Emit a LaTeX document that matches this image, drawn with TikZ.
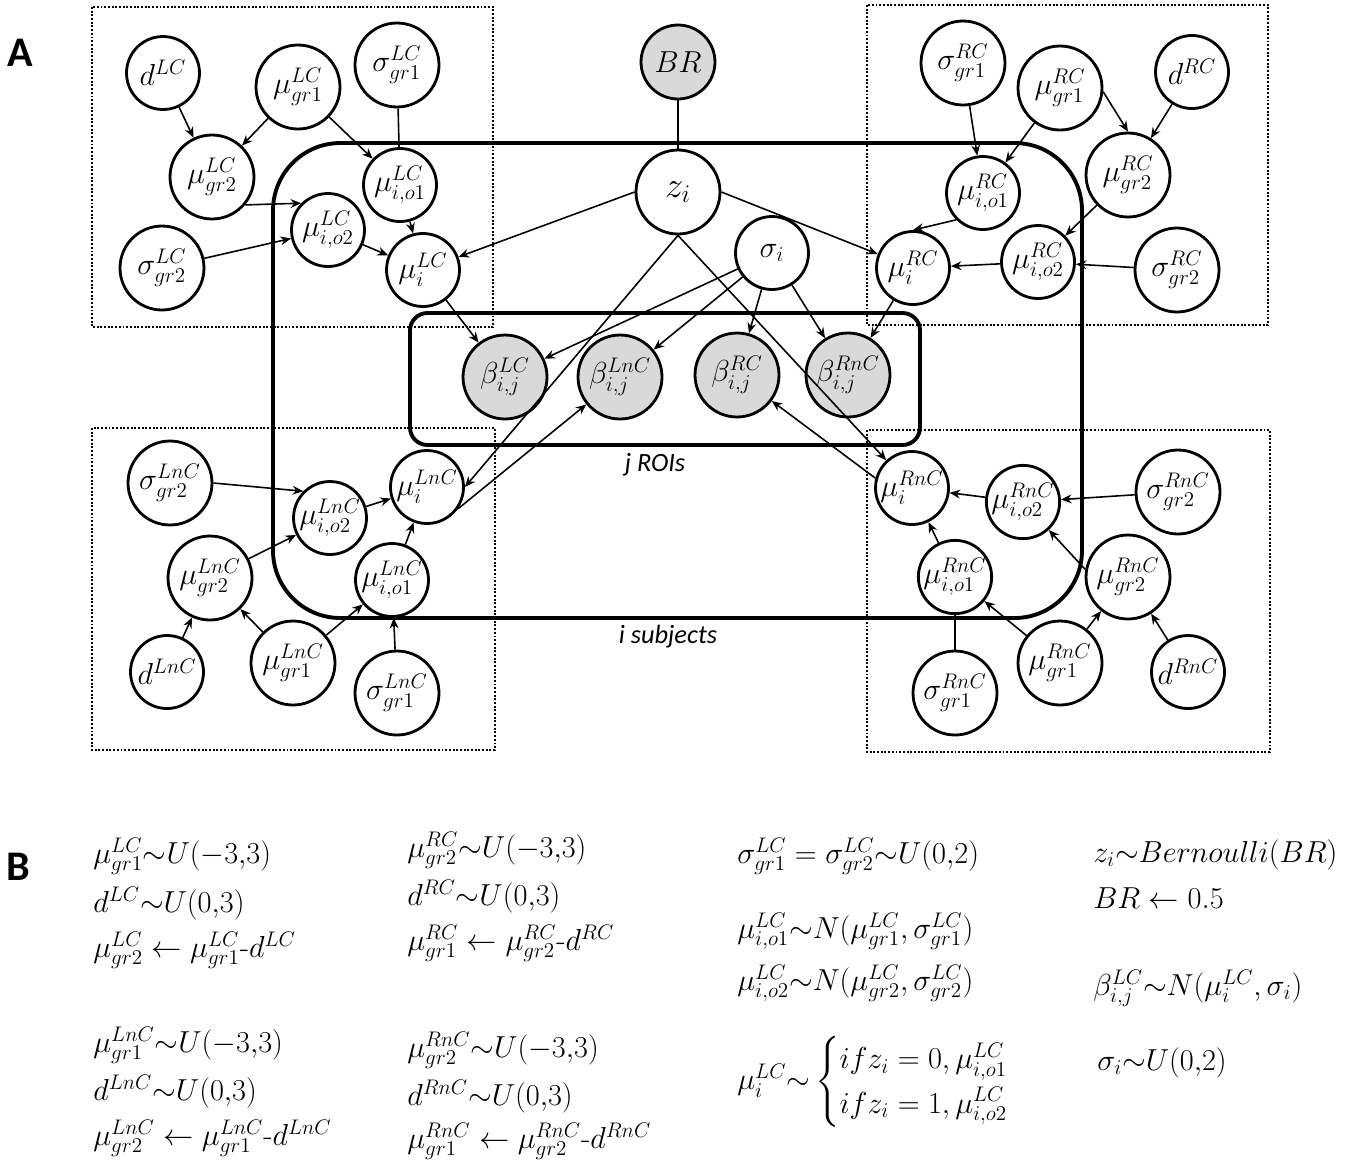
\documentclass[tikz,border=0pt]{standalone}
\usepackage{amsmath}
\usepackage{fontspec}
\newfontfamily\labfont{Carlito}
\DeclareMathSizes{16}{16}{12.5}{10}
\usetikzlibrary{arrows.meta}

\begin{document}
\begin{tikzpicture}[x=0.02cm,y=-0.02cm,
  rv/.style={circle,draw,line width=1.6pt,fill=white,inner sep=0pt,minimum size=1.68cm,font=\fontsize{16}{19}\selectfont},
  rvs/.style={rv,minimum size=1.46cm},
  obs/.style={rv,fill=black!15},
  arr/.style={line width=0.9pt,-{Stealth[length=6pt,width=5pt]}},
  ln/.style={line width=0.9pt},
  grp/.style={line width=1.1pt,densely dotted},
  plate/.style={line width=2.2pt,rounded corners=#1},
  eq/.style={anchor=base west,inner sep=0pt,font=\fontsize{17.5}{21}\selectfont}]

\useasboundingbox (0,0) rectangle (1345,1164);

\draw[grp] (92,7) rectangle (493,327);
\draw[grp] (867,5) rectangle (1268,325);
\draw[grp] (92,428) rectangle (495,750);
\draw[grp] (867,430) rectangle (1270,752);

\draw[plate=1.35cm] (273,143) rectangle (1082,618);
\draw[plate=0.35cm] (410,313) rectangle (920,445);

\node[font=\labfont\bfseries\fontsize{24}{28}\selectfont] (lblA) at (20,53) {A};
\node[font=\labfont\bfseries\fontsize{24}{28}\selectfont] (lblB) at (18,867) {B};
\node[font=\labfont\itshape\fontsize{15}{18}\selectfont] (roi) at (655,465) {j ROIs};
\node[font=\labfont\itshape\fontsize{15}{18}\selectfont] (subj) at (668,637) {i subjects};

\node[rvs] (dLC) at (163,73) {$d^{LC}$};
\node[rv] (mLCg1) at (298,87) {$\mu^{LC}_{gr1}$};
\node[rv] (sLCg1) at (397,65) {$\sigma^{LC}_{gr1}$};
\node[rv] (mLCg2) at (212,177) {$\mu^{LC}_{gr2}$};
\node[rvs] (mLCo1) at (400,185) {$\mu^{LC}_{i,o1}$};
\node[rvs] (mLCo2) at (328,230) {$\mu^{LC}_{i,o2}$};
\node[rv] (sLCg2) at (162,268) {$\sigma^{LC}_{gr2}$};
\node[rvs] (mLCi) at (423,270) {$\mu^{LC}_{i}$};

\node[rv] (sRCg1) at (963,63) {$\sigma^{RC}_{gr1}$};
\node[rv] (mRCg1) at (1060,88) {$\mu^{RC}_{gr1}$};
\node[rvs] (dRC) at (1192,72) {$d^{RC}$};
\node[rv] (mRCg2) at (1128,175) {$\mu^{RC}_{gr2}$};
\node[rvs] (mRCo1) at (983,193) {$\mu^{RC}_{i,o1}$};
\node[rvs] (mRCo2) at (1038,262) {$\mu^{RC}_{i,o2}$};
\node[rvs] (mRCi) at (913,268) {$\mu^{RC}_{i}$};
\node[rv] (sRCg2) at (1177,270) {$\sigma^{RC}_{gr2}$};

\node[rv] (sLnCg2) at (170,483) {$\sigma^{LnC}_{gr2}$};
\node[rvs] (mLnCo2) at (330,518) {$\mu^{LnC}_{i,o2}$};
\node[rvs] (mLnCi) at (427,487) {$\mu^{LnC}_{i}$};
\node[rv] (mLnCg2) at (210,578) {$\mu^{LnC}_{gr2}$};
\node[rvs] (mLnCo1) at (392,580) {$\mu^{LnC}_{i,o1}$};
\node[rvs] (dLnC) at (167,672) {$d^{LnC}$};
\node[rv] (mLnCg1) at (293,663) {$\mu^{LnC}_{gr1}$};
\node[rv] (sLnCg1) at (397,693) {$\sigma^{LnC}_{gr1}$};

\node[rvs] (mRnCi) at (912,488) {$\mu^{RnC}_{i}$};
\node[rvs] (mRnCo2) at (1023,502) {$\mu^{RnC}_{i,o2}$};
\node[rv] (sRnCg2) at (1178,492) {$\sigma^{RnC}_{gr2}$};
\node[rvs] (mRnCo1) at (955,577) {$\mu^{RnC}_{i,o1}$};
\node[rv] (mRnCg2) at (1128,577) {$\mu^{RnC}_{gr2}$};
\node[rv] (sRnCg1) at (955,693) {$\sigma^{RnC}_{gr1}$};
\node[rv] (mRnCg1) at (1060,663) {$\mu^{RnC}_{gr1}$};
\node[rvs] (dRnC) at (1188,672) {$d^{RnC}$};

\node[obs,minimum size=1.48cm,font=\fontsize{17.5}{21}\selectfont] (BR) at (678,62) {$BR$};
\node[rv,font=\fontsize{22}{26}\selectfont] (z) at (678,192) {$z_i$};
\node[rvs,font=\fontsize{18}{22}\selectfont] (sig) at (772,253) {$\sigma_i$};
\node[obs] (bLC) at (505,377) {$\beta^{LC}_{i,j}$};
\node[obs] (bLnC) at (620,377) {$\beta^{LnC}_{i,j}$};
\node[obs] (bRC) at (737,375) {$\beta^{RC}_{i,j}$};
\node[obs] (bRnC) at (848,375) {$\beta^{RnC}_{i,j}$};

\draw[arr] (dLC) -- (mLCg2);
\draw[arr] (mLCg1) -- (mLCg2);
\draw[arr] (mLCg1) -- (mLCo1);
\draw[ln] (sLCg1) -- (mLCo1);
\draw[arr] (mLCg2.-40) -- (mLCo2.135);
\draw[arr] (sLCg2) -- (mLCo2);
\draw[arr] (mLCo2) -- (mLCi);
\draw[arr] (mLCo1) -- (mLCi);

\draw[arr] (sRCg1) -- (mRCo1);
\draw[arr] (mRCg1) -- (mRCo1);
\draw[arr] (mRCg1.-5) -- (mRCg2.north);
\draw[arr] (dRC) -- (mRCg2);
\draw[arr] (mRCg2) -- (mRCo2);
\draw[arr] (sRCg2) -- (mRCo2);
\draw[arr] (mRCo2) -- (mRCi);
\draw[arr] (mRCo1.south west) -- (mRCi.north);

\draw[arr] (sLnCg2.east) -- (mLnCo2.north west);
\draw[arr] (mLnCo2) -- (mLnCi);
\draw[arr] (mLnCg2) -- (mLnCo2);
\draw[arr] (mLnCo1) -- (mLnCi);
\draw[arr] (dLnC) -- (mLnCg2);
\draw[arr] (mLnCg1) -- (mLnCg2);
\draw[arr] (mLnCg1) -- (mLnCo1);
\draw[arr] (sLnCg1) -- (mLnCo1);

\draw[arr] (mRnCo2) -- (mRnCi);
\draw[arr] (sRnCg2) -- (mRnCo2);
\draw[arr] (mRnCo1) -- (mRnCi);
\draw[arr] (mRnCg1) -- (mRnCo1);
\draw[arr] (mRnCg1) -- (mRnCg2);
\draw[arr] (dRnC) -- (mRnCg2);
\draw[arr] (mRnCg2.170) -- (mRnCo2);
\draw[ln] (sRnCg1) -- (mRnCo1);

\draw[ln] (BR) -- (z);
\draw[arr] (z.west) -- (mLCi);
\draw[arr] (z.east) -- (mRCi);
\draw[arr] (z.south) -- (mLnCi.east);
\draw[arr] (z.south) -- (mRnCi);
\draw[arr] (sig) -- (bLC);
\draw[arr] (sig) -- (bLnC);
\draw[arr] (sig) -- (bRC);
\draw[arr] (sig) -- (bRnC);
\draw[arr] (mLCi) -- (bLC);
\draw[arr] (mRCi) -- (bRnC);
\draw[arr] (mLnCi.-35) -- (bLnC);
\draw[arr] (mRnCi.165) -- (bRC);

\node[eq] (e1) at (93,863) {$\mu^{LC}_{gr1}{\sim}U(-3{,}3)$};
\node[eq] (e2) at (93,912) {$d^{LC}{\sim}U(0{,}3)$};
\node[eq] (e3) at (93,957) {$\mu^{LC}_{gr2}\leftarrow\mu^{LC}_{gr1}\text{-}d^{LC}$};
\node[eq] (e4) at (93,1052) {$\mu^{LnC}_{gr1}{\sim}U(-3{,}3)$};
\node[eq] (e5) at (93,1100) {$d^{LnC}{\sim}U(0{,}3)$};
\node[eq] (e6) at (93,1145) {$\mu^{LnC}_{gr2}\leftarrow\mu^{LnC}_{gr1}\text{-}d^{LnC}$};

\node[eq] (e7) at (407,857) {$\mu^{RC}_{gr2}{\sim}U(-3{,}3)$};
\node[eq] (e8) at (407,905) {$d^{RC}{\sim}U(0{,}3)$};
\node[eq] (e9) at (407,950) {$\mu^{RC}_{gr1}\leftarrow\mu^{RC}_{gr2}\text{-}d^{RC}$};
\node[eq] (e10) at (407,1057) {$\mu^{RnC}_{gr2}{\sim}U(-3{,}3)$};
\node[eq] (e11) at (407,1105) {$d^{RnC}{\sim}U(0{,}3)$};
\node[eq] (e12) at (407,1148) {$\mu^{RnC}_{gr1}\leftarrow\mu^{RnC}_{gr2}\text{-}d^{RnC}$};

\node[eq] (e13) at (737,863) {$\sigma^{LC}_{gr1}=\sigma^{LC}_{gr2}{\sim}U(0{,}2)$};
\node[eq] (e14) at (737,938) {$\mu^{LC}_{i,o1}{\sim}N(\mu^{LC}_{gr1},\sigma^{LC}_{gr1})$};
\node[eq] (e15) at (737,990) {$\mu^{LC}_{i,o2}{\sim}N(\mu^{LC}_{gr2},\sigma^{LC}_{gr2})$};
\node[eq,anchor=west] (e16) at (737,1082) {$\mu^{LC}_{i}{\sim}\begin{cases} ifz_i=0,\mu^{LC}_{i,o1}\\ ifz_i=1,\mu^{LC}_{i,o2}\end{cases}$};

\node[eq] (e17) at (1093,862) {$z_i{\sim}Bernoulli(BR)$};
\node[eq] (e18) at (1093,908) {$BR\leftarrow0.5$};
\node[eq] (e19) at (1093,995) {$\beta^{LC}_{i,j}{\sim}N(\mu^{LC}_{i},\sigma_i)$};
\node[eq] (e20) at (1097,1070) {$\sigma_i{\sim}U(0{,}2)$};
\end{tikzpicture}
\end{document}
